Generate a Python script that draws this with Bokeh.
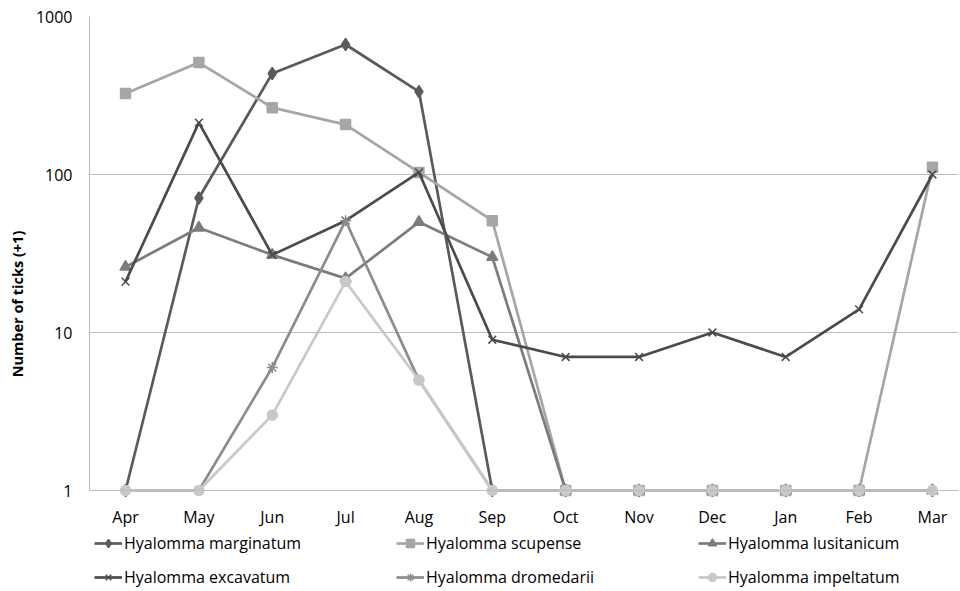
from bokeh.plotting import figure
from bokeh.models import Range1d, FixedTicker, NumeralTickFormatter, Legend
from bokeh.embed import file_html
from bokeh.resources import INLINE

months = ["Apr", "May", "Jun", "Jul", "Aug", "Sep", "Oct", "Nov", "Dec", "Jan", "Feb", "Mar"]
y_ticks = [1, 10, 100, 1000]

marginatum = [1, 71, 436, 665, 335, 1, 1, 1, 1, 1, 1, 1]
scupense = [326, 511, 265, 207, 103, 51, 1, 1, 1, 1, 1, 111]
lusitanicum = [26, 46, 31, 22, 50, 30, 1, 1, 1, 1, 1, 1]
excavatum = [21, 213, 31, 51, 103, 9, 7, 7, 10, 7, 14, 100]
dromedarii = [1, 1, 6, 51, 5, 1, 1, 1, 1, 1, 1, 1]
impeltatum = [1, 1, 3, 21, 5, 1, 1, 1, 1, 1, 1, 1]

series = [
    ("Hyalomma marginatum", marginatum, "#5a5a5a", "diamond", 12),
    ("Hyalomma scupense", scupense, "#a6a6a6", "square", 10),
    ("Hyalomma lusitanicum", lusitanicum, "#7c7c7c", "triangle", 11),
    ("Hyalomma excavatum", excavatum, "#4b4b4b", "x", 11),
    ("Hyalomma dromedarii", dromedarii, "#8c8c8c", "asterisk", 11),
    ("Hyalomma impeltatum", impeltatum, "#c8c8c8", "circle", 10),
]

FONT = "Open Sans"
xs = list(range(len(months)))

# frame runs to the bottom of the page; the value axis 1..1000 occupies the
# upper 474 px (158 px per decade), the rest holds month labels and legend
Y_MIN = 10 ** (3 - 575 / 158)

p = figure(width=960, height=591, y_axis_type="log",
           x_range=Range1d(-0.491, 11.355), y_range=Range1d(Y_MIN, 1000),
           output_backend="svg", toolbar_location=None,
           min_border_left=89, min_border_right=2, min_border_top=16,
           min_border_bottom=0)
p.outline_line_color = None
p.background_fill_color = "white"
p.border_fill_color = "white"

items = {}
for name, vals, col, mk, sz in series:
    r1 = p.line(xs, vals, line_color=col, line_width=2.7)
    r2 = p.scatter(xs, vals, marker=mk, size=sz, fill_color=col,
                   line_color=col, line_width=1.5)
    items[name] = [r1, r2]

# x axis drawn at value 1
p.xaxis.fixed_location = 1
p.xaxis.ticker = FixedTicker(ticks=xs)
p.xaxis.major_label_overrides = {i: m for i, m in enumerate(months)}
p.xaxis.major_tick_line_color = None
p.xaxis.major_tick_out = 0
p.xaxis.major_tick_in = 0
p.xaxis.minor_tick_line_color = None
p.xaxis.axis_line_color = "#bdbdbd"
p.xaxis.axis_line_width = 1
p.xaxis.major_label_standoff = 15
p.xaxis.major_label_text_font = FONT
p.xaxis.major_label_text_font_size = "16px"
p.xaxis.major_label_text_color = "black"

p.yaxis.ticker = FixedTicker(ticks=y_ticks)
p.yaxis.bounds = (1, 1000)
p.yaxis.formatter = NumeralTickFormatter(format="0")
p.yaxis.major_tick_line_color = None
p.yaxis.major_tick_out = 0
p.yaxis.major_tick_in = 0
p.yaxis.minor_tick_line_color = None
p.yaxis.axis_line_color = "#bdbdbd"
p.yaxis.major_label_standoff = 17
p.yaxis.major_label_text_font = FONT
p.yaxis.major_label_text_font_size = "16px"
p.yaxis.major_label_text_color = "black"
p.yaxis.axis_label = "Number of ticks (+1)"
p.yaxis.axis_label_text_font = FONT
p.yaxis.axis_label_text_font_style = "bold"
p.yaxis.axis_label_text_font_size = "14.5px"
p.yaxis.axis_label_text_color = "black"
p.yaxis.axis_label_standoff = 6

p.xgrid.grid_line_color = None
p.ygrid.ticker = FixedTicker(ticks=y_ticks)
p.ygrid.grid_line_color = "#bdbdbd"
p.ygrid.grid_line_width = 1

legend_rows = [
    ["Hyalomma marginatum", "Hyalomma scupense", "Hyalomma lusitanicum"],
    ["Hyalomma excavatum", "Hyalomma dromedarii", "Hyalomma impeltatum"],
]
row_y = [37, 3]
for row, yy in zip(legend_rows, row_y):
    lg = Legend(items=[(n, items[n]) for n in row], orientation="horizontal",
                location=(5, yy), margin=0, padding=4, spacing=87,
                glyph_width=28, glyph_height=20, label_height=20,
                label_standoff=2, label_width=185,
                label_text_font=FONT, label_text_font_size="16px",
                label_text_color="black",
                border_line_color=None, background_fill_alpha=0)
    p.add_layout(lg, "center")

open("out.html", "w").write(file_html(p, INLINE))
